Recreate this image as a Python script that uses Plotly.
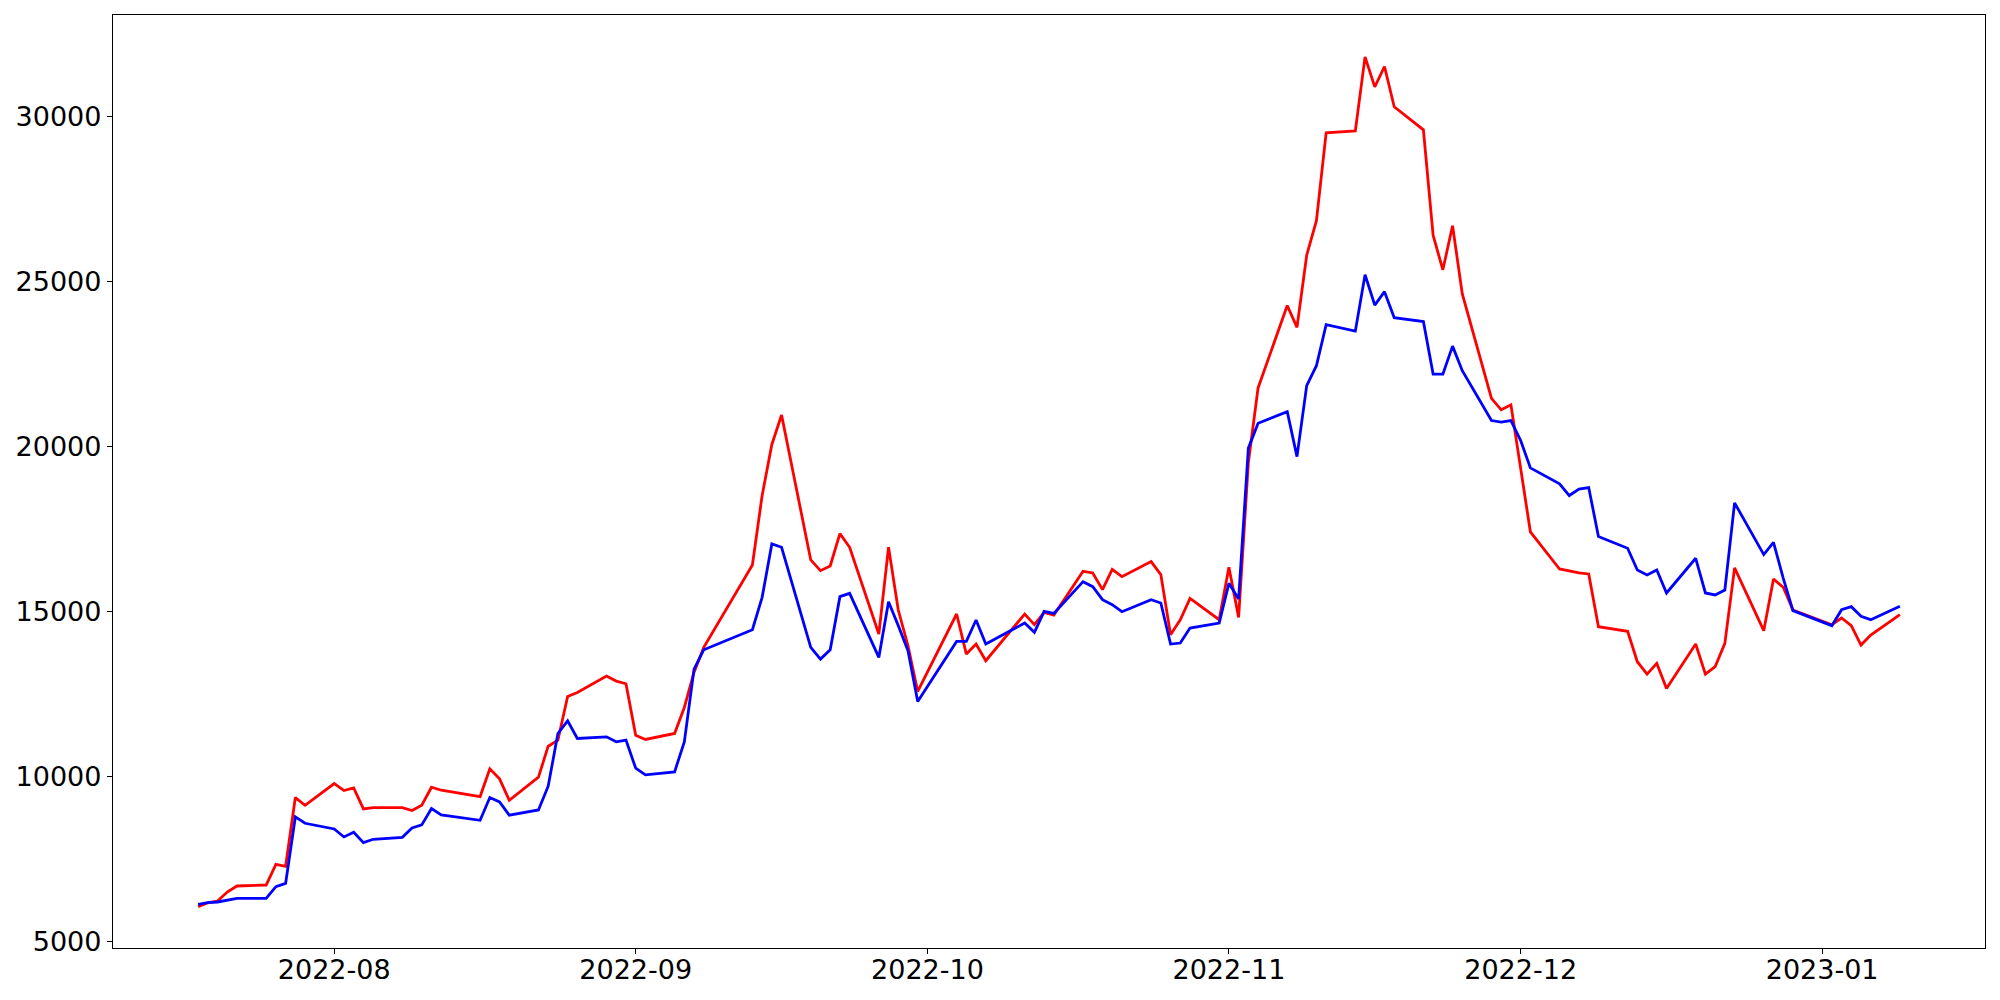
import plotly.graph_objects as go

dates = [
    "2022-07-18", "2022-07-19", "2022-07-20", "2022-07-21", "2022-07-22", "2022-07-25", "2022-07-26", "2022-07-27", "2022-07-28", "2022-07-29",
    "2022-08-01", "2022-08-02", "2022-08-03", "2022-08-04", "2022-08-05", "2022-08-08", "2022-08-09", "2022-08-10", "2022-08-11", "2022-08-12",
    "2022-08-16", "2022-08-17", "2022-08-18", "2022-08-19", "2022-08-22", "2022-08-23", "2022-08-24", "2022-08-25", "2022-08-26", "2022-08-29", "2022-08-30", "2022-08-31",
    "2022-09-01", "2022-09-02", "2022-09-05", "2022-09-06", "2022-09-07", "2022-09-08", "2022-09-13", "2022-09-14", "2022-09-15", "2022-09-16",
    "2022-09-19", "2022-09-20", "2022-09-21", "2022-09-22", "2022-09-23", "2022-09-26", "2022-09-27", "2022-09-28", "2022-09-29", "2022-09-30",
    "2022-10-04", "2022-10-05", "2022-10-06", "2022-10-07", "2022-10-11", "2022-10-12", "2022-10-13", "2022-10-14", "2022-10-17", "2022-10-18",
    "2022-10-19", "2022-10-20", "2022-10-21", "2022-10-24", "2022-10-25", "2022-10-26", "2022-10-27", "2022-10-28", "2022-10-31",
    "2022-11-01", "2022-11-02", "2022-11-03", "2022-11-04", "2022-11-07", "2022-11-08", "2022-11-09", "2022-11-10", "2022-11-11", "2022-11-14",
    "2022-11-15", "2022-11-16", "2022-11-17", "2022-11-18", "2022-11-21", "2022-11-22", "2022-11-23", "2022-11-24", "2022-11-25", "2022-11-28",
    "2022-11-29", "2022-11-30",
    "2022-12-01", "2022-12-02", "2022-12-05", "2022-12-06", "2022-12-07", "2022-12-08", "2022-12-09", "2022-12-12", "2022-12-13", "2022-12-14",
    "2022-12-15", "2022-12-16", "2022-12-19", "2022-12-20", "2022-12-21", "2022-12-22", "2022-12-23", "2022-12-26", "2022-12-27", "2022-12-28",
    "2022-12-29",
    "2023-01-02", "2023-01-03", "2023-01-04", "2023-01-05", "2023-01-06", "2023-01-09",
]

red_values = [
    6042, 6160, 6214, 6487, 6669, 6699, 7326, 7266, 9349, 9116,
    9774, 9561, 9642, 9005, 9045, 9045, 8954, 9116, 9662, 9571,
    9379, 10219, 9915, 9268, 9966, 10906, 11088, 12413, 12535, 13031, 12879, 12798,
    11240, 11109, 11291, 12080, 13150, 13900, 16398, 18500, 20050, 20944,
    16550, 16226, 16368, 17348, 16934, 14304, 16934, 15033, 13951, 12565,
    14912, 13698, 14001, 13496, 14911, 14588, 14962, 14881, 16206, 16155,
    15650, 16267, 16044, 16499, 16105, 14284, 14739, 15387, 14739,
    16327, 14810, 19500, 21763, 24262, 23600, 25785, 26831, 29494, 29552,
    31795, 30888, 31505, 30284, 29586, 26389, 25343, 26680, 24611, 21449,
    21100, 21251,
    19333, 17403, 16276, 16218, 16160, 16125, 14527, 14386, 13466, 13091,
    13415, 12657, 14002, 13091, 13314, 14022, 16308, 14406, 15974, 15721,
    15033,
    14588, 14791, 14558, 13972, 14275, 14892,
]

blue_values = [
    6113, 6163, 6184, 6244, 6295, 6295, 6649, 6750, 8762, 8570,
    8398, 8155, 8297, 7984, 8085, 8145, 8429, 8520, 9015, 8823,
    8661, 9349, 9217, 8813, 8975, 9693, 11291, 11675, 11139, 11189, 11038, 11089,
    10239, 10037, 10128, 11038, 13243, 13829, 14436, 15417, 17035, 16934,
    13900, 13546, 13829, 15437, 15538, 13597, 15285, 14560, 13799, 12262,
    14082, 14082, 14729, 14001, 14638, 14355, 14992, 14931, 15892, 15740,
    15346, 15194, 14982, 15346, 15245, 14001, 14032, 14487, 14638,
    15842, 15366, 19938, 20693, 21042, 19682, 21833, 22437, 23681, 23483,
    25192, 24274, 24681, 23890, 23774, 22182, 22182, 23030, 22286, 20775,
    20728, 20775,
    20171, 19341, 18856, 18502, 18694, 18745, 17258, 16904, 16247, 16095,
    16247, 15549, 16601, 15549, 15488, 15640, 18280, 16712, 17086, 16000,
    15013,
    14558, 15043, 15134, 14841, 14740, 15144,
]

x_tick_values = ["2022-08-01", "2022-09-01", "2022-10-01", "2022-11-01", "2022-12-01", "2023-01-01"]
x_tick_labels = ["2022-08", "2022-09", "2022-10", "2022-11", "2022-12", "2023-01"]
y_tick_values = [5000, 10000, 15000, 20000, 25000, 30000]

fig = go.Figure()
fig.add_trace(go.Scatter(x=dates, y=red_values, mode="lines",
                         line=dict(color="#ff0000", width=2.8), showlegend=False))
fig.add_trace(go.Scatter(x=dates, y=blue_values, mode="lines",
                         line=dict(color="#0000ff", width=2.8), showlegend=False))

axis_font = dict(family="DejaVu Sans", size=27, color="black")

# the page body adds an 8px offset, so margins are reduced accordingly
fig.update_layout(
    width=2000, height=1000,
    paper_bgcolor="white", plot_bgcolor="white",
    margin=dict(l=105, r=23, t=7, b=60, autoexpand=False),
    font=axis_font,
    xaxis=dict(
        type="date",
        range=["2022-07-09 06:00", "2023-01-17 18:00"],
        tickvals=x_tick_values, ticktext=x_tick_labels,
        showgrid=False, zeroline=False,
        showline=True, linecolor="black", linewidth=1.3, mirror=True,
        ticks="outside", ticklen=5, tickwidth=1.2, tickcolor="black",
        tickfont=axis_font, automargin=False, ticklabelstandoff=-8,
    ),
    yaxis=dict(
        range=[4790, 33065],
        tickvals=y_tick_values, ticktext=[str(v) for v in y_tick_values],
        showgrid=False, zeroline=False,
        showline=True, linecolor="black", linewidth=1.3, mirror=True,
        ticks="outside", ticklen=5, tickwidth=1.2, tickcolor="black",
        tickfont=axis_font, automargin=False,
    ),
)

fig.write_html("out.html")
